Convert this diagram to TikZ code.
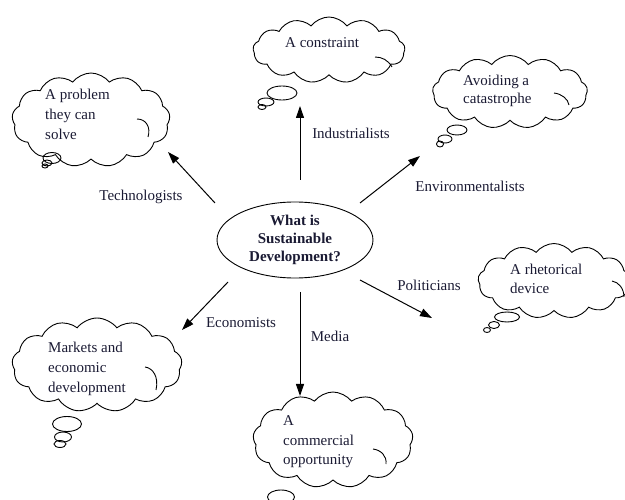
\documentclass[tikz,border=0pt]{standalone}
\usepackage{fontspec}
\setmainfont{Liberation Serif}
\usetikzlibrary{shapes.symbols,shapes.geometric,arrows.meta}
\definecolor{ink}{HTML}{1A1A33}
\begin{document}
\begin{tikzpicture}[x=1pt,y=-1pt,
 cloudbox/.style={cloud, draw, cloud puffs=13, cloud puff arc=105, cloud ignores aspect, inner sep=0pt, line width=0.9pt},
 bubble/.style={ellipse, draw, inner sep=0pt, line width=0.9pt},
 curl/.style={line width=0.9pt},
 txt/.style={font=\fontsize{15}{20}\selectfont, align=left, text=ink, inner sep=0pt, anchor=west},
 lbl/.style={font=\fontsize{15}{18}\selectfont, text=ink, inner sep=0pt},
 arr/.style={-{Triangle[length=12pt,width=8pt]}, line width=1pt}]
\useasboundingbox (0,0) rectangle (625,500);
\clip (0,0) rectangle (625,500);

% centre
\node[ellipse, draw, line width=0.9pt, minimum width=156pt, minimum height=76pt, inner sep=0pt,
      font=\bfseries\fontsize{15}{18}\selectfont, align=center, text=ink] (sd) at (295,240)
      {What is\\Sustainable\\Development?};

% clouds
\node[cloudbox, minimum width=158pt, minimum height=94pt] (c1) at (91,120) {};
\node[txt] (t1) at (45,114) {A problem\\they can\\solve};
\draw[curl] (137,119) .. controls (146,119) and (151,127) .. (148,137);
\node[bubble, minimum width=18pt, minimum height=11pt] (b1a) at (52,158) {};
\node[bubble, minimum width=10pt, minimum height=6pt] (b1b) at (47,163) {};
\node[bubble, minimum width=6pt, minimum height=4pt] (b1c) at (45,166) {};

\node[cloudbox, minimum width=152pt, minimum height=66pt] (c2) at (329,50) {};
\node[txt] (t2) at (285,43) {A constraint};
\draw[curl] (375,57) .. controls (382,57) and (388,60) .. (392,67);
\node[bubble, minimum width=30pt, minimum height=14pt] (b2a) at (282,93) {};
\node[bubble, minimum width=16pt, minimum height=8pt] (b2b) at (266,102) {};
\node[bubble, minimum width=8pt, minimum height=5pt] (b2c) at (262,107) {};

\node[cloudbox, minimum width=155pt, minimum height=73pt] (c3) at (510,92) {};
\node[txt, font=\fontsize{15}{18}\selectfont] (t3) at (463,91) {Avoiding a\\catastrophe};
\draw[curl] (554,93) .. controls (562,94) and (568,99) .. (569,105);
\node[bubble, minimum width=20pt, minimum height=10pt] (b3a) at (457,130) {};
\node[bubble, minimum width=14pt, minimum height=8pt] (b3b) at (445,139) {};
\node[bubble, minimum width=7pt, minimum height=6pt] (b3c) at (440,144) {};

\node[cloudbox, minimum width=152pt, minimum height=75pt] (c4) at (554,281) {};
\node[txt, font=\fontsize{15}{19}\selectfont] (t4) at (510,279) {A rhetorical\\device};
\draw[curl] (612,281) .. controls (619,282) and (624,289) .. (624,297);
\node[bubble, minimum width=25pt, minimum height=10pt] (b4a) at (507,317) {};
\node[bubble, minimum width=11pt, minimum height=7pt] (b4b) at (494,325) {};
\node[bubble, minimum width=7pt, minimum height=5pt] (b4c) at (487,330) {};

\node[cloudbox, minimum width=170pt, minimum height=94pt] (c5) at (97,365) {};
\node[txt] (t5) at (48,369) {Markets and\\economic\\development};
\draw[curl] (145,367) .. controls (153,368) and (159,377) .. (156,390);
\node[bubble, minimum width=29pt, minimum height=15pt] (b5a) at (67,424) {};
\node[bubble, minimum width=17pt, minimum height=10pt] (b5b) at (63,437) {};
\node[bubble, minimum width=12pt, minimum height=7pt] (b5c) at (60,444) {};

\node[cloudbox, minimum width=160pt, minimum height=96pt] (c6) at (333,440) {};
\node[txt, font=\fontsize{15}{19.5}\selectfont] (t6) at (283,442) {A\\commercial\\opportunity};
\draw[curl] (373,449) .. controls (381,450) and (387,456) .. (386,464);
\node[bubble, minimum width=27pt, minimum height=14pt] (b6a) at (281,497) {};

% arrow end points
\coordinate (s1) at (215,203); \coordinate (e1) at (168,152);
\coordinate (s2) at (300,180); \coordinate (e2) at (300,106);
\coordinate (s3) at (360,203); \coordinate (e3) at (420,156);
\coordinate (s4) at (360,280); \coordinate (e4) at (432,318);
\coordinate (s5) at (228,282); \coordinate (e5) at (182,330);
\coordinate (s6) at (300,292); \coordinate (e6) at (300,396);
\draw[arr] (s1) -- (e1);
\draw[arr] (s2) -- (e2);
\draw[arr] (s3) -- (e3);
\draw[arr] (s4) -- (e4);
\draw[arr] (s5) -- (e5);
\draw[arr] (s6) -- (e6);

% labels
\node[lbl] (l1) at (141,197) {Technologists};
\node[lbl] (l2) at (351,133) {Industrialists};
\node[lbl] (l3) at (470,186) {Environmentalists};
\node[lbl] (l4) at (429,285) {Politicians};
\node[lbl] (l5) at (241,323) {Economists};
\node[lbl] (l6) at (330,336) {Media};
\end{tikzpicture}
\end{document}
